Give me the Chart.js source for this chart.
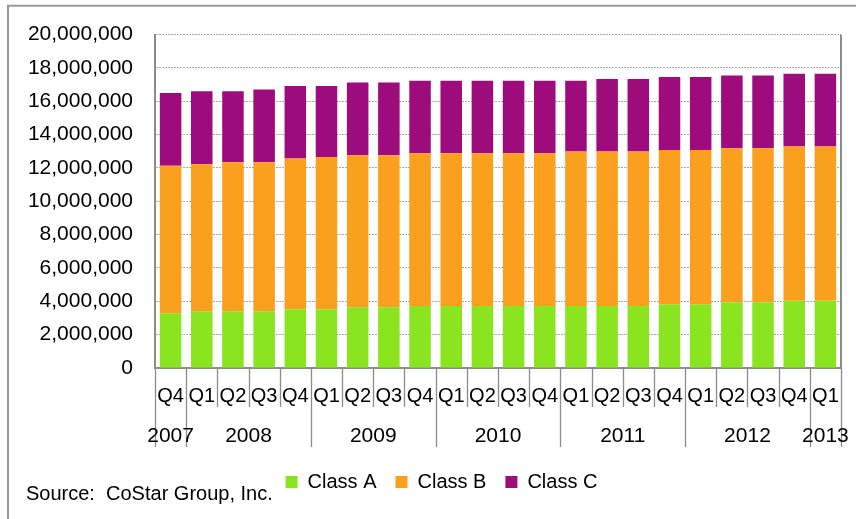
<!DOCTYPE html>
<html>
<head>
<meta charset="utf-8">
<script src="https://cdn.jsdelivr.net/npm/chart.js@4.4.1/dist/chart.umd.min.js"></script>
<style>
  html, body { margin: 0; padding: 0; background: #fff; }
  canvas { display: block; }
</style>
</head>
<body>
<canvas id="chart" width="856" height="519"></canvas>
<script>
// Quarter labels along the axis, and the years they fall in
const quarters = ['Q4', 'Q1', 'Q2', 'Q3', 'Q4', 'Q1', 'Q2', 'Q3', 'Q4', 'Q1', 'Q2',
                  'Q3', 'Q4', 'Q1', 'Q2', 'Q3', 'Q4', 'Q1', 'Q2', 'Q3', 'Q4', 'Q1'];
const years = ['2007', '2008', '2009', '2010', '2011', '2012', '2013'];
const quartersPerYear = [1, 4, 4, 4, 4, 4, 1];

// Inventory by building class
const classA = [3290000, 3410000, 3410000, 3410000, 3520000, 3520000, 3640000, 3640000,
                3720000, 3720000, 3720000, 3720000, 3720000, 3720000, 3720000, 3720000,
                3820000, 3820000, 3940000, 3940000, 4040000, 4040000];
const classB = [8840000, 8820000, 8930000, 8930000, 9040000, 9140000, 9120000, 9120000,
                9160000, 9160000, 9160000, 9160000, 9160000, 9260000, 9260000, 9260000,
                9260000, 9260000, 9240000, 9240000, 9250000, 9250000];
const classC = [4370000, 4370000, 4260000, 4360000, 4350000, 4250000, 4370000, 4370000,
                4350000, 4350000, 4350000, 4350000, 4350000, 4250000, 4350000, 4350000,
                4370000, 4370000, 4370000, 4370000, 4360000, 4360000];

const seriesNames = ['Class A', 'Class B', 'Class C'];
const yMin = 0;
const yMax = 20000000;
const yStep = 2000000;
const sourceNote = 'Source:  CoStar Group, Inc.';

const FONT = "'Liberation Sans', Arial, sans-serif";
const AXIS_GREY = '#8c8c8c';

// Category keys: quarter + year
const yearOfQuarter = [];
years.forEach((y, i) => { for (let k = 0; k < quartersPerYear[i]; k++) yearOfQuarter.push(y); });
const categories = quarters.map((q, i) => q + ' ' + yearOfQuarter[i]);

// Nudge the legend row a little to the right of centre
const legendOffsetPlugin = {
  id: 'legendOffset',
  afterLayout(chart) {
    if (chart.legend) {
      chart.legend.left += 8;
      chart.legend.right += 8;
    }
  }
};

// Frame, two-level category axis and source line
const axisTextPlugin = {
  id: 'axisText',
  afterDraw(chart) {
    const { ctx, chartArea: ca, scales: { x } } = chart;
    const step = x.getPixelForValue(1) - x.getPixelForValue(0);
    const edge = i => x.getPixelForValue(0) - step / 2 + i * step;
    const axisY = ca.bottom;
    ctx.save();

    // outer frame (left and top edges)
    ctx.strokeStyle = '#999';
    ctx.lineWidth = 2;
    ctx.beginPath();
    ctx.moveTo(8, chart.height);
    ctx.lineTo(8, 5.7);
    ctx.lineTo(chart.width, 5.7);
    ctx.stroke();

    // right edge of plot area
    ctx.strokeStyle = AXIS_GREY;
    ctx.lineWidth = 2;
    ctx.beginPath();
    ctx.moveTo(ca.right, ca.top);
    ctx.lineTo(ca.right, axisY);
    ctx.stroke();

    // category separators: short between quarters, long between years
    const yearEdges = new Set([0]);
    let acc = 0;
    quartersPerYear.forEach(n => { acc += n; yearEdges.add(acc); });
    ctx.lineWidth = 1.3;
    for (let i = 0; i <= quarters.length; i++) {
      const px = Math.round(edge(i)) + 0.5;
      const bottom = yearEdges.has(i) ? axisY + 79 : axisY + 39;
      ctx.beginPath();
      ctx.moveTo(px, axisY);
      ctx.lineTo(px, bottom);
      ctx.stroke();
    }

    // quarter labels
    ctx.fillStyle = '#000';
    ctx.textAlign = 'center';
    ctx.textBaseline = 'middle';
    ctx.font = '20px ' + FONT;
    quarters.forEach((q, i) => ctx.fillText(q, x.getPixelForValue(i), axisY + 28));

    // year labels centred on their quarters
    ctx.font = '21px ' + FONT;
    let start = 0;
    years.forEach((y, i) => {
      const mid = (edge(start) + edge(start + quartersPerYear[i])) / 2;
      ctx.fillText(y, mid, axisY + 68);
      start += quartersPerYear[i];
    });

    // source line
    ctx.textAlign = 'left';
    ctx.font = '20px ' + FONT;
    ctx.fillText(sourceNote, 26, 494);
    ctx.restore();
  }
};

new Chart(document.getElementById('chart'), {
  type: 'bar',
  data: {
    labels: categories,
    datasets: [
      { label: seriesNames[0], data: classA, backgroundColor: '#8AE520' },
      { label: seriesNames[1], data: classB, backgroundColor: '#FAA01E' },
      { label: seriesNames[2], data: classC, backgroundColor: '#9D0B7D' }
    ]
  },
  options: {
    responsive: false,
    animation: false,
    devicePixelRatio: 1,
    layout: { padding: { left: 26, right: 15, top: 31, bottom: 17 } },
    datasets: { bar: { categoryPercentage: 1, barPercentage: 0.69, borderWidth: 0 } },
    scales: {
      x: {
        stacked: true,
        grid: { display: false },
        border: { display: true, color: AXIS_GREY, width: 2 },
        ticks: { display: false },
        afterFit: s => { s.height = 85; }
      },
      y: {
        stacked: true,
        min: yMin,
        max: yMax,
        ticks: {
          stepSize: yStep,
          padding: 22,
          color: '#000',
          font: { family: FONT, size: 21 },
          callback: v => v.toLocaleString('en-US')
        },
        grid: { color: '#a8a8a8', lineWidth: 1, drawTicks: false },
        border: { display: true, color: AXIS_GREY, width: 2, dash: [2, 1] },
        afterFit: s => { s.width = 129; }
      }
    },
    plugins: {
      legend: {
        position: 'bottom',
        labels: {
          boxWidth: 12,
          boxHeight: 12,
          padding: 19,
          color: '#000',
          font: { family: FONT, size: 20 }
        }
      },
      tooltip: { enabled: false }
    }
  },
  plugins: [legendOffsetPlugin, axisTextPlugin]
});
</script>
</body>
</html>
